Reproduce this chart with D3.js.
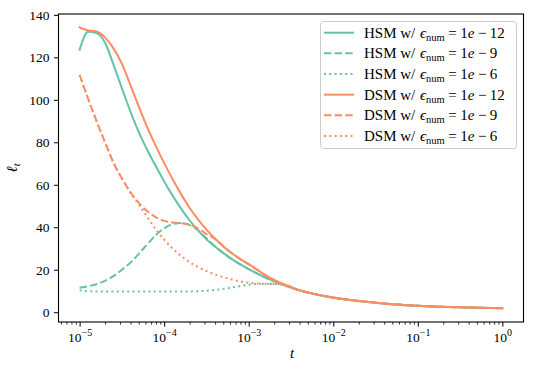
<!DOCTYPE html>
<html><head><meta charset="utf-8">
<script src="https://cdn.jsdelivr.net/npm/d3@7"></script>
<style>body{margin:0;background:#fff}svg{display:block}text{font-family:"Liberation Serif","DejaVu Serif",serif;fill:#000}</style>
</head><body><svg id="c" width="534" height="372"></svg>
<script>
// x positions: exponents of t
const logT = [-5,-4.9,-4.8,-4.7,-4.6,-4.5,-4.4,-4.3,-4.2,-4.1,-4.0,-3.9,-3.8,-3.7,-3.6,-3.5,-3.4,-3.3,-3.2,-3.1,-3.0,-2.8,-2.6,-2.4,-2.2,-2.0,-1.75,-1.5,-1.25,-1.0,-0.75,-0.5,-0.25,0];
const hsm12 = [123.6,132.0,131.4,127.0,116.6,105.4,94.6,84.8,76.4,68.8,61.6,54.9,48.8,43.3,38.5,34.4,30.9,27.8,25.0,22.5,20.3,16.3,13.0,10.3,8.35,6.85,5.5,4.5,3.6,3.0,2.6,2.3,2.05,1.9];
const hsm9  = [11.5,12.2,13.2,14.8,17.0,20.0,23.3,27.5,32.0,36.3,39.5,41.5,42.0,41.0,38.6,34.8,31.1,27.9,25.0,22.5,20.3,16.3,13.0,10.3,8.35,6.85,5.5,4.5,3.6,3.0,2.6,2.3,2.05,1.9];
const hsm6  = [10.3,9.9,9.8,9.8,9.8,9.8,9.8,9.8,9.8,9.8,9.8,9.8,9.8,9.8,9.9,10.1,10.5,11.0,11.6,12.3,12.9,13.4,13.0,10.3,8.35,6.85,5.5,4.5,3.6,3.0,2.6,2.3,2.05,1.9];
const dsm12 = [134.1,132.7,132.2,129.4,124.2,117.0,107.0,96.8,87.0,78.3,70.2,62.6,55.6,49.2,43.7,38.9,34.7,31.0,27.8,25.0,22.6,17.4,13.3,10.4,8.4,6.9,5.5,4.5,3.6,3.0,2.6,2.3,2.05,1.9];
const dsm9  = [111.7,100.5,90.0,80.0,70.5,63.0,56.5,51.5,47.5,44.8,43.0,42.2,41.9,41.3,39.5,36.8,34.5,31.0,27.8,25.0,22.6,17.4,13.3,10.4,8.4,6.9,5.5,4.5,3.6,3.0,2.6,2.3,2.05,1.9];
const dsm6  = [111.7,100.5,90.0,80.0,70.5,63.0,56.3,50.7,44.8,39.1,34.2,30.0,26.5,23.6,21.3,19.4,17.8,16.5,15.4,14.5,13.9,13.4,13.2,10.4,8.4,6.9,5.5,4.5,3.6,3.0,2.6,2.3,2.05,1.9];
const seriesNames = ["HSM","HSM","HSM","DSM","DSM","DSM"];
const epsLabels = ["12","9","6","12","9","6"];
const yTicks = [0,20,40,60,80,100,120,140];
const xTickExps = [-5,-4,-3,-2,-1,0];

const svg = d3.select("#c");
const L=58.5,R=523.5,T=14,B=322;
const x = d3.scaleLog().domain([Math.pow(10,-5.25),Math.pow(10,0.25)]).range([L,R]);
const y = d3.scaleLinear().domain([-4.6,140.4]).range([B,T]);

const colors = {HSM:"#66c2a5", DSM:"#fc8d62"};
const dashes = ["none","7.4,3.2","2,3.3"];
const all = [hsm12,hsm9,hsm6,dsm12,dsm9,dsm6];

const plot = svg.append("g");
const line = d3.line().x(d=>x(d[0])).y(d=>y(d[1])).curve(d3.curveMonotoneX);
all.forEach((vals,i)=>{
  const pts = logT.map((e,j)=>[Math.pow(10,e), vals[j]]);
  plot.append("path").datum(pts).attr("d",line).attr("fill","none")
    .attr("stroke",colors[seriesNames[i]]).attr("stroke-width",2)
    .attr("stroke-dasharray",dashes[i%3]).attr("stroke-linecap", i%3===0?"square":"butt");
});

// axes
const yAxis = svg.append("g").attr("transform",`translate(${L},0)`)
  .call(d3.axisLeft(y).tickValues(yTicks).tickSize(4.6).tickPadding(4.4).tickFormat(d3.format("d")));
yAxis.select(".domain").remove();
yAxis.selectAll("text").attr("font-size",13.5).attr("dy","0.34em");
yAxis.selectAll("line").attr("stroke-width",1);

const majors = xTickExps.map(e=>Math.pow(10,e));
const minors = [];
for(let e=-6;e<=0;e++) for(let m=2;m<=9;m++){const v=m*Math.pow(10,e); if(v>=x.domain()[0]&&v<=x.domain()[1]) minors.push(v);}
const xMinor = svg.append("g").attr("transform",`translate(0,${B})`)
  .call(d3.axisBottom(x).tickValues(minors).tickSize(2.6).tickFormat(""));
xMinor.select(".domain").remove();
xMinor.selectAll("line").attr("stroke-width",0.8);
const xAxis = svg.append("g").attr("transform",`translate(0,${B})`)
  .call(d3.axisBottom(x).tickValues(majors).tickSize(4.6).tickFormat(""));
xAxis.select(".domain").remove();
xAxis.selectAll("line").attr("stroke-width",1);
xAxis.selectAll(".tick").each(function(d,i){
  const t = d3.select(this).append("text").attr("y",19.5).attr("text-anchor","middle").attr("font-size",13.5);
  t.append("tspan").text("10");
  t.append("tspan").attr("dy",-5.5).attr("font-size",10).text(xTickExps[i]===0?"0":"\u2212"+Math.abs(xTickExps[i]));
});

// frame
svg.append("rect").attr("x",L).attr("y",T).attr("width",R-L).attr("height",B-T)
  .attr("fill","none").attr("stroke","#000").attr("stroke-width",1.1);

// axis labels
svg.append("text").attr("x",(L+R)/2+1).attr("y",358).attr("text-anchor","middle")
  .attr("font-size",15).attr("font-style","italic").text("t");
const yl = svg.append("text").attr("transform",`translate(17,${(T+B)/2}) rotate(-90)`).attr("text-anchor","middle").attr("font-size",15);
yl.append("tspan").attr("font-style","italic").text("\u2113");
yl.append("tspan").attr("font-style","italic").attr("font-size",10.5).attr("dy",3).text("t");

// legend
const lg = svg.append("g");
lg.append("rect").attr("x",320.5).attr("y",21.5).attr("width",196).attr("height",127).attr("rx",3)
  .attr("fill","#fff").attr("fill-opacity",0.8).attr("stroke","#cccccc").attr("stroke-width",1);
all.forEach((v,i)=>{
  const cy = 32.7 + i*20.65;
  lg.append("line").attr("x1",324).attr("x2",354).attr("y1",cy).attr("y2",cy)
    .attr("stroke",colors[seriesNames[i]]).attr("stroke-width",2).attr("stroke-dasharray",dashes[i%3]);
  const t = lg.append("text").attr("x",364).attr("y",cy+5).attr("font-size",15);
  t.append("tspan").text(seriesNames[i]+" w/ ");
  t.append("tspan").attr("font-style","italic").attr("dx",1).text("\u03f5");
  t.append("tspan").attr("font-size",10.5).attr("dy",3).text("num");
  t.append("tspan").attr("dy",-3).attr("dx",3.5).text("=");
  t.append("tspan").attr("dx",3.5).text("1");
  t.append("tspan").attr("font-style","italic").text("e");
  t.append("tspan").attr("dx",3.5).text("\u2212");
  t.append("tspan").attr("dx",3.5).text(epsLabels[i]);
});
</script></body></html>
